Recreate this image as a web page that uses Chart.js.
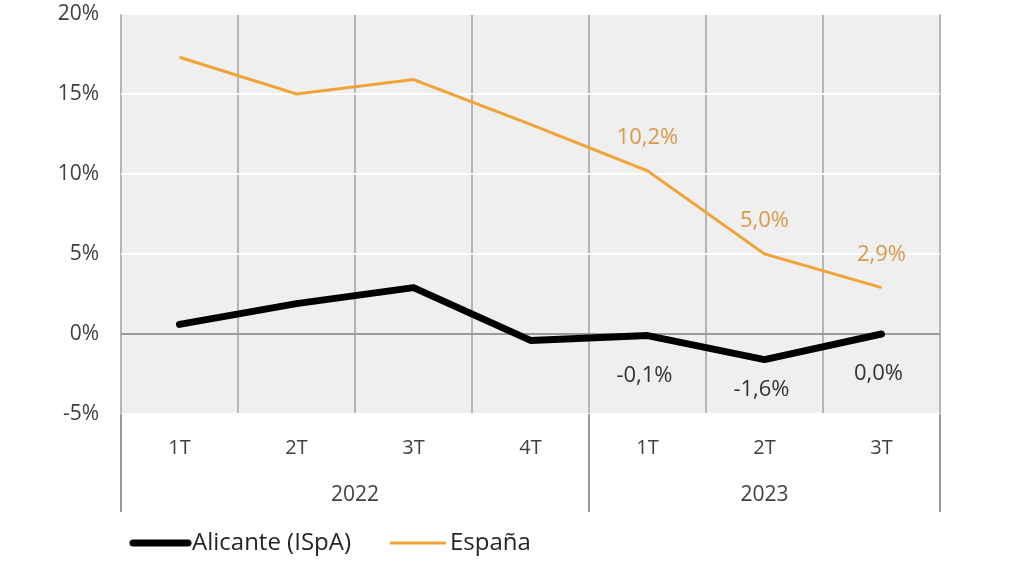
<!DOCTYPE html>
<html>
<head>
<meta charset="utf-8">
<script src="https://cdn.jsdelivr.net/npm/chart.js@4"></script>
<style>
  html, body { margin: 0; padding: 0; background: #fff; }
  #wrap { width: 1024px; height: 576px; position: relative; }
</style>
</head>
<body>
<div id="wrap"><canvas id="grafico"></canvas></div>
<script>
// datos del gráfico
const trimestres = ['1T', '2T', '3T', '4T', '1T', '2T', '3T'];
const anios = ['2022', '2023'];
const trimestresPorAnio = [4, 3];
const alicante = [0.6, 1.9, 2.9, -0.4, -0.1, -1.6, 0.0];
const espana = [17.3, 15.0, 15.9, 13.1, 10.2, 5.0, 2.9];
const etiquetados = [4, 5, 6]; // puntos con etiqueta de valor
const yTicks = [-5, 0, 5, 10, 15, 20];

const FUENTE = '"Open Sans", "Noto Sans", sans-serif';
const fmt = v => v.toFixed(1).replace('.', ',') + '%';

// fondo gris del área de trazado
const fondo = {
  id: 'fondo',
  beforeDraw(chart) {
    const a = chart.chartArea, c = chart.ctx;
    c.save();
    c.fillStyle = '#efefef';
    c.fillRect(a.left, a.top, a.right - a.left, a.bottom - a.top);
    c.restore();
  }
};

// etiquetas de valor, años y leyenda
const extras = {
  id: 'extras',
  afterDraw(chart) {
    const c = chart.ctx, x = chart.scales.x, a = chart.chartArea;
    c.save();
    c.font = '22px ' + FUENTE;
    c.textAlign = 'center';
    c.textBaseline = 'middle';
    etiquetados.forEach(i => {
      const px = x.getPixelForValue(i);
      const ye = chart.scales.y.getPixelForValue(espana[i]);
      c.fillStyle = '#d9984a';
      c.fillText(fmt(espana[i]), px, ye - 33);
      const ya = chart.scales.y.getPixelForValue(alicante[i]);
      const off = i === 5 ? 30 : 40;
      c.fillStyle = '#333333';
      c.fillText(fmt(alicante[i]), px - 3, ya + off);
    });

    // separadores de años y etiquetas
    const half = (x.getPixelForValue(1) - x.getPixelForValue(0)) / 2;
    c.strokeStyle = '#9a9a9a';
    c.lineWidth = 2;
    let idx = 0;
    const bordes = [x.getPixelForValue(0) - half];
    anios.forEach((anio, k) => {
      const ini = x.getPixelForValue(idx) - half;
      idx += trimestresPorAnio[k];
      const fin = x.getPixelForValue(idx - 1) + half;
      bordes.push(fin);
      c.fillStyle = '#404040';
      c.font = '21px ' + FUENTE;
      c.fillText(anio, (ini + fin) / 2, a.bottom + 81);
    });
    bordes.forEach(bx => {
      c.beginPath();
      c.moveTo(bx, a.bottom);
      c.lineTo(bx, a.bottom + 98);
      c.stroke();
    });

    // leyenda
    c.textAlign = 'left';
    c.font = '24px ' + FUENTE;
    c.lineCap = 'round';
    const ly = 543;
    c.strokeStyle = '#000';
    c.lineWidth = 7;
    c.beginPath(); c.moveTo(133, ly); c.lineTo(188, ly); c.stroke();
    c.fillStyle = '#262626';
    c.fillText('Alicante (ISpA)', 192, ly);
    c.strokeStyle = '#f0a336';
    c.lineWidth = 3;
    c.lineCap = 'butt';
    c.beginPath(); c.moveTo(390, ly); c.lineTo(446, ly); c.stroke();
    c.fillText('España', 450, ly);
    c.restore();
  }
};

new Chart(document.getElementById('grafico'), {
  type: 'line',
  data: {
    labels: trimestres,
    datasets: [
      {
        label: 'España',
        data: espana,
        borderColor: '#f0a336',
        borderWidth: 3,
        pointRadius: 0,
        tension: 0
      },
      {
        label: 'Alicante (ISpA)',
        data: alicante,
        borderColor: '#000000',
        borderWidth: 7,
        borderCapStyle: 'round',
        borderJoinStyle: 'round',
        pointRadius: 0,
        tension: 0
      }
    ]
  },
  options: {
    responsive: true,
    maintainAspectRatio: false,
    animation: false,
    layout: { padding: { left: 0, right: 84, top: 14, bottom: 0 } },
    plugins: {
      legend: { display: false },
      tooltip: { enabled: false }
    },
    scales: {
      x: {
        offset: true,
        grid: { offset: true, color: '#b5b5b5', lineWidth: 2, drawTicks: false },
        border: { display: false },
        ticks: { color: '#404040', font: { family: FUENTE, size: 20 }, padding: 22 },
        afterFit: s => { s.height = 576 - 414; s.paddingLeft = 0; s.paddingRight = 0; }
      },
      y: {
        min: -5,
        max: 20,
        afterBuildTicks: s => { s.ticks = yTicks.map(v => ({ value: v })); },
        grid: {
          drawTicks: false,
          color: c => c.tick && c.tick.value === 0 ? '#9a9a9a' : '#ffffff',
          lineWidth: 2
        },
        border: { display: false },
        ticks: {
          color: '#404040',
          font: { family: FUENTE, size: 21 },
          padding: 22,
          callback: v => v + '%'
        },
        afterFit: s => { s.width = 121; s.paddingTop = 0; s.paddingBottom = 0; }
      }
    }
  },
  plugins: [fondo, extras]
});
</script>
</body>
</html>
